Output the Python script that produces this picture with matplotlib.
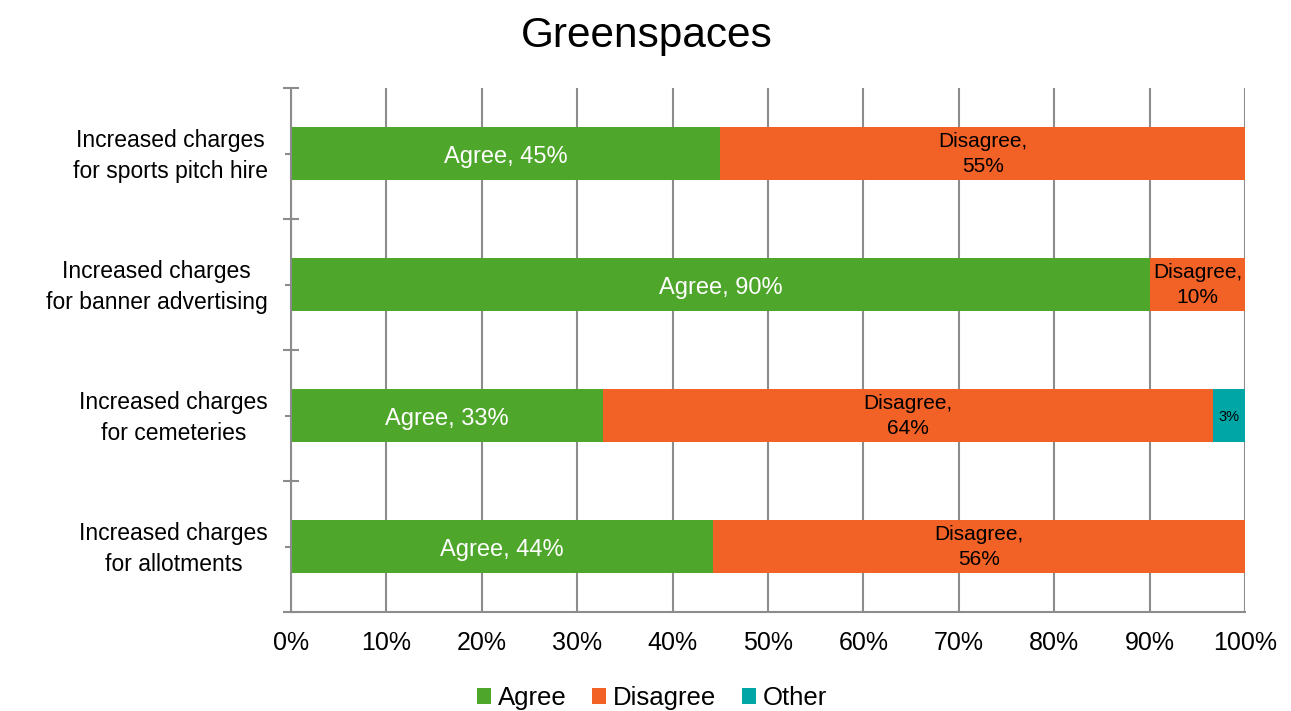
import matplotlib
matplotlib.use("Agg")
import matplotlib.pyplot as plt
from matplotlib.ticker import FixedLocator, PercentFormatter
from matplotlib.transforms import ScaledTranslation

plt.rcParams['font.family'] = ['Liberation Sans', 'DejaVu Sans']

# Survey responses, top row first
categories = [
    "Increased charges\nfor sports pitch hire",
    "Increased charges\nfor banner advertising",
    "Increased charges\nfor cemeteries",
    "Increased charges\nfor allotments",
]
agree = [45.0, 90.0, 32.7, 44.2]
disagree = [55.0, 10.0, 63.9, 55.8]
other = [0.0, 0.0, 3.4, 0.0]

series_names = ["Agree", "Disagree", "Other"]
colors = ["#4ea72a", "#f26125", "#00a6a6"]
grid_color = "#8c8c8c"

fig = plt.figure(figsize=(12.91, 7.11), dpi=100)
ax = fig.add_axes([0.2254, 0.1392, 0.739, 0.737])

n = len(categories)
ypos = [n - 0.5 - i for i in range(n)]
bar_h = 0.4

left = [0.0] * n
bars = []
for vals, name, col in zip([agree, disagree, other], series_names, colors):
    b = ax.barh(ypos, vals, left=left, height=bar_h, color=col, label=name,
                edgecolor='none', zorder=2)
    bars.append(b)
    left = [l + v for l, v in zip(left, vals)]

# Data labels inside each segment
for i in range(n):
    y = ypos[i]
    a, d, o = agree[i], disagree[i], other[i]
    ax.text(a / 2, y - 0.01, f"Agree, {a:.0f}%", ha='center',
            va='center_baseline', color='white', fontsize=17, zorder=3)
    ax.text(a + d / 2, y, f"Disagree,\n{d:.0f}%", ha='center', va='center',
            color='black', fontsize=15, linespacing=1.4, zorder=3)
    if o > 0:
        ax.text(a + d + o / 2, y, f"{o:.0f}%", ha='center',
                va='center_baseline', color='black', fontsize=10.5, zorder=3)

ax.set_xlim(0, 100)
ax.set_ylim(0, n)
ax.xaxis.set_major_locator(FixedLocator(range(0, 101, 10)))
ax.xaxis.set_major_formatter(PercentFormatter(decimals=0))
ax.tick_params(axis='x', length=0, pad=14, labelsize=18)
ax.grid(axis='x', color=grid_color, linewidth=1.5, zorder=0)
ax.set_axisbelow(True)

# Category boundaries as major ticks, labels on the centres
ax.yaxis.set_major_locator(FixedLocator(range(0, n + 1)))
ax.yaxis.set_minor_locator(FixedLocator(ypos))
ax.set_yticklabels([""] * (n + 1))
ax.set_yticks(ypos, categories, minor=True)
ax.tick_params(axis='y', which='major', direction='inout', length=11.5,
               width=1.5, color=grid_color)
ax.tick_params(axis='y', which='minor', direction='inout', length=8.5,
               width=1.5, color=grid_color, labelsize=16.5, pad=12.5)
lift = ScaledTranslation(0, 4 / 100, fig.dpi_scale_trans)
for lbl in ax.get_yticklabels(minor=True):
    lbl.set_multialignment('center')
    lbl.set_linespacing(1.45)
    lbl.set_transform(lbl.get_transform() + lift)

for side in ['top', 'right']:
    ax.spines[side].set_visible(False)
for side in ['left', 'bottom']:
    ax.spines[side].set_color(grid_color)
    ax.spines[side].set_linewidth(1.5)
    ax.spines[side].set_zorder(4)

fig.text(0.501, 0.949, "Greenspaces", ha='center', va='center', fontsize=30.5)

fig.legend(handles=bars, labels=series_names, loc='center',
           bbox_to_anchor=(0.505, 0.018), ncol=3, frameon=False,
           fontsize=18.5, handlelength=0.55, handleheight=0.55,
           handletextpad=0.25, columnspacing=1.0)

fig.savefig("out.png", dpi=100)
